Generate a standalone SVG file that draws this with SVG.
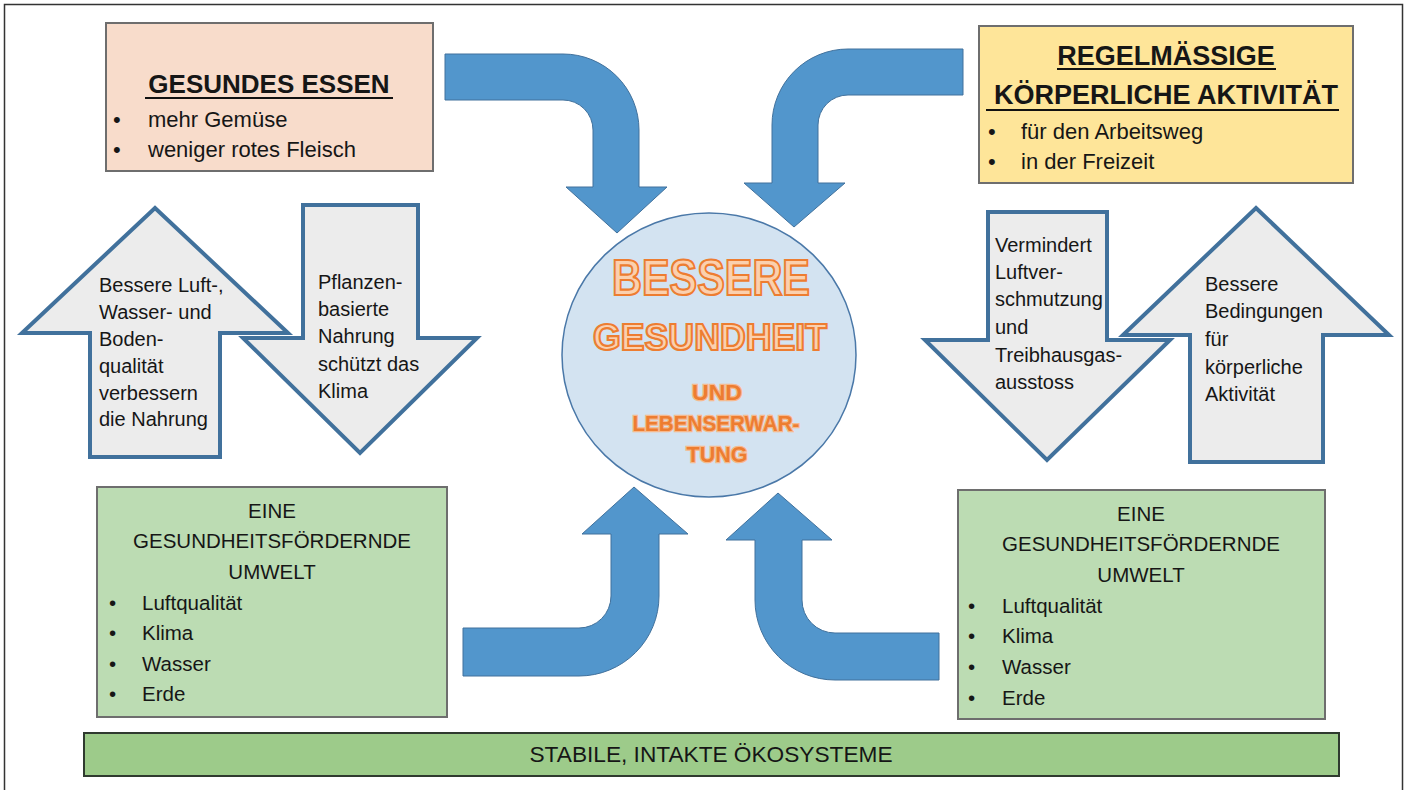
<svg xmlns="http://www.w3.org/2000/svg" width="1409" height="790" viewBox="0 0 1409 790">
<style>
.t{font-family:"Liberation Sans",Arial,sans-serif;fill:#161616}
.box{stroke:#6e6e6e;stroke-width:2}
.ga{fill:#ececec;stroke:#41719c;stroke-width:4;stroke-linejoin:miter}
.ba{fill:#5296cc;stroke:#41719c;stroke-width:1}
.h{font-weight:bold;font-size:26px}
.b{font-size:22px}
.g{font-size:20.5px}
.a{font-size:20px}
.ul{stroke:#111;stroke-width:2}
.big{font-family:"Liberation Sans",Arial,sans-serif;font-weight:bold;fill:#fbd0ae;stroke:#ed7d31;stroke-width:2.2;text-anchor:middle}
.sm{font-family:"Liberation Sans",Arial,sans-serif;font-weight:bold;font-size:22px;fill:#ed7d31;stroke:#f6b98d;stroke-width:2.5;paint-order:stroke;text-anchor:middle}
</style>
<rect x="0" y="0" width="1409" height="790" fill="#ffffff"/>
<rect x="4.5" y="4.5" width="1398" height="830" fill="none" stroke="#333" stroke-width="1.5"/>

<g id="connectors">
<path class="ba" d="M445,54 L563,54 A76,76 0 0 1 639,130 L639,187 L667,187 L617,233 L566,187 L593,187 L593,130 A30,30 0 0 0 563,100 L445,100 Z"/>
<path class="ba" d="M963,49 L848,49 A76,76 0 0 0 772,125 L772,183 L744,183 L794,227 L845,183 L818,183 L818,125 A30,30 0 0 1 848,95 L963,95 Z"/>
<path class="ba" d="M463,628 L579,628 A32,32 0 0 0 611,596 L611,534 L582,534 L634,487 L688,534 L659,534 L659,596 A80,80 0 0 1 579,676 L463,676 Z"/>
<path class="ba" d="M939,633 L835,633 A33,33 0 0 1 802,600 L802,540 L832,540 L778,493 L726,540 L755,540 L755,600 A80,80 0 0 0 835,680 L939,680 Z"/>
</g>

<g id="essen">
<rect class="box" x="106" y="23" width="327" height="148" fill="#f8dccb"/>
<text class="t h" x="269" y="93" text-anchor="middle">GESUNDES ESSEN</text>
<line class="ul" x1="145" y1="98" x2="393" y2="98"/>
<text class="t b" x="113" y="127">•</text>
<text class="t b" x="148" y="127">mehr Gemüse</text>
<text class="t b" x="113" y="157">•</text>
<text class="t b" x="148" y="157">weniger rotes Fleisch</text>
</g>

<g id="aktivitaet">
<rect class="box" x="979" y="26" width="374" height="157" fill="#fee599"/>
<text class="t" x="1166" y="65" text-anchor="middle" font-weight="bold" font-size="27">REGELMÄSSIGE</text>
<line class="ul" x1="1057" y1="69" x2="1276" y2="69"/>
<text class="t" x="1166" y="104" text-anchor="middle" font-weight="bold" font-size="27">KÖRPERLICHE AKTIVITÄT</text>
<line class="ul" x1="986" y1="110" x2="1339" y2="110"/>
<text class="t b" x="988" y="139">•</text>
<text class="t b" x="1021" y="139">für den Arbeitsweg</text>
<text class="t b" x="988" y="169">•</text>
<text class="t b" x="1021" y="169">in der Freizeit</text>
</g>

<g id="pfeil-luft">
<path class="ga" d="M155,208 L288,333 L220,333 L220,457 L90,457 L90,333 L22,333 Z"/>
<text class="t a" x="99" y="292">Bessere Luft-,</text>
<text class="t a" x="99" y="319">Wasser- und</text>
<text class="t a" x="99" y="346">Boden-</text>
<text class="t a" x="99" y="373">qualität</text>
<text class="t a" x="99" y="400">verbessern</text>
<text class="t a" x="99" y="426">die Nahrung</text>
</g>

<g id="pfeil-pflanzen">
<path class="ga" d="M303,205 L418,205 L418,338 L477,338 L360,453 L243,338 L303,338 Z"/>
<text class="t a" x="318" y="289">Pflanzen-</text>
<text class="t a" x="318" y="316">basierte</text>
<text class="t a" x="318" y="343">Nahrung</text>
<text class="t a" x="318" y="371">schützt das</text>
<text class="t a" x="318" y="398">Klima</text>
</g>

<g id="pfeil-vermindert">
<path class="ga" d="M988,212 L1107,212 L1107,340 L1170,340 L1047,460 L925,340 L988,340 Z"/>
<text class="t a" x="995" y="252">Vermindert</text>
<text class="t a" x="995" y="279">Luftver-</text>
<text class="t a" x="995" y="306">schmutzung</text>
<text class="t a" x="995" y="334">und</text>
<text class="t a" x="995" y="362">Treibhausgas-</text>
<text class="t a" x="995" y="389">ausstoss</text>
</g>

<g id="pfeil-bedingungen">
<path class="ga" d="M1256,208 L1389,335 L1323,335 L1323,462 L1190,462 L1190,335 L1123,335 Z"/>
<text class="t a" x="1205" y="291">Bessere</text>
<text class="t a" x="1205" y="318">Bedingungen</text>
<text class="t a" x="1205" y="346">für</text>
<text class="t a" x="1205" y="374">körperliche</text>
<text class="t a" x="1205" y="401">Aktivität</text>
</g>

<g id="gesundheit">
<ellipse cx="709" cy="355" rx="147" ry="142" fill="#d3e3f1" stroke="#4a78a8" stroke-width="1.5"/>
<text class="big" x="711" y="295" font-size="50" textLength="198" lengthAdjust="spacingAndGlyphs">BESSERE</text>
<text class="big" x="710" y="350" font-size="37" textLength="234" lengthAdjust="spacingAndGlyphs">GESUNDHEIT</text>
<text class="sm" x="717" y="400" textLength="50" lengthAdjust="spacingAndGlyphs">UND</text>
<text class="sm" x="716" y="431" textLength="167" lengthAdjust="spacingAndGlyphs">LEBENSERWAR-</text>
<text class="sm" x="717" y="462" textLength="61" lengthAdjust="spacingAndGlyphs">TUNG</text>
</g>

<g id="umwelt-links">
<rect class="box" x="97" y="487" width="350" height="230" fill="#bcdcb3"/>
<text class="t g" x="272" y="518" text-anchor="middle">EINE</text>
<text class="t g" x="272" y="548" text-anchor="middle">GESUNDHEITSFÖRDERNDE</text>
<text class="t g" x="272" y="579" text-anchor="middle">UMWELT</text>
<text class="t g" x="109" y="610">•</text>
<text class="t g" x="142" y="610">Luftqualität</text>
<text class="t g" x="109" y="640">•</text>
<text class="t g" x="142" y="640">Klima</text>
<text class="t g" x="109" y="671">•</text>
<text class="t g" x="142" y="671">Wasser</text>
<text class="t g" x="109" y="701">•</text>
<text class="t g" x="142" y="701">Erde</text>
</g>

<g id="umwelt-rechts">
<rect class="box" x="958" y="490" width="367" height="229" fill="#bcdcb3"/>
<text class="t g" x="1141" y="521" text-anchor="middle">EINE</text>
<text class="t g" x="1141" y="551" text-anchor="middle">GESUNDHEITSFÖRDERNDE</text>
<text class="t g" x="1141" y="582" text-anchor="middle">UMWELT</text>
<text class="t g" x="968" y="613">•</text>
<text class="t g" x="1002" y="613">Luftqualität</text>
<text class="t g" x="968" y="643">•</text>
<text class="t g" x="1002" y="643">Klima</text>
<text class="t g" x="968" y="674">•</text>
<text class="t g" x="1002" y="674">Wasser</text>
<text class="t g" x="968" y="705">•</text>
<text class="t g" x="1002" y="705">Erde</text>
</g>

<g id="oekosysteme">
<rect x="84" y="733" width="1255" height="43" fill="#9dcb8a" stroke="#2f3a2f" stroke-width="2"/>
<text class="t" x="711" y="762" text-anchor="middle" font-size="22" textLength="363" lengthAdjust="spacingAndGlyphs">STABILE, INTAKTE ÖKOSYSTEME</text>
</g>
</svg>
